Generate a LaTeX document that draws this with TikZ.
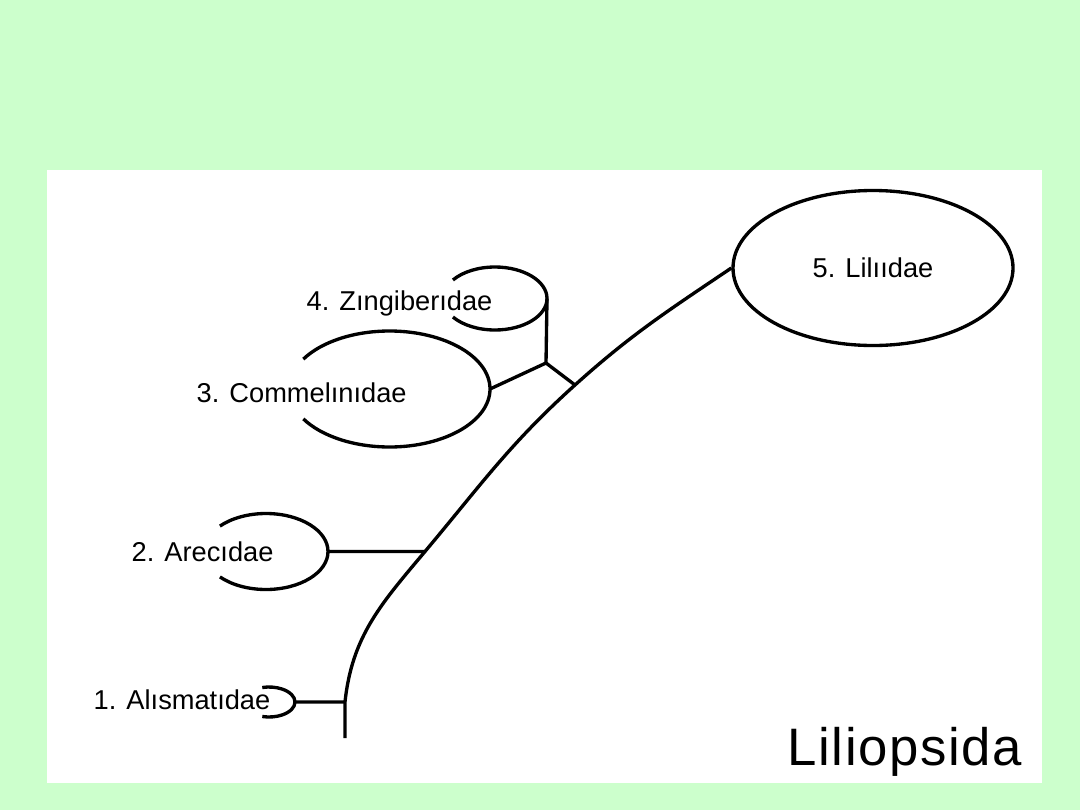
\documentclass[tikz,border=0pt]{standalone}
\usepackage{fontspec}
\setmainfont{Liberation Sans}
\usetikzlibrary{shapes.geometric}
\definecolor{bggreen}{RGB}{204,255,204}
\tikzset{lab/.style={font=\fontsize{15.5}{18}\selectfont,inner sep=0pt,anchor=base west}}

\begin{document}
\begin{tikzpicture}[x=.2cm,y=.2cm,line width=1.9pt]
\fill[bggreen] (0,0) rectangle (108,81);
\fill[white] (4.7,2.7) rectangle (104.2,64);
\node[draw,ellipse,minimum width=5.6cm,minimum height=3.1cm,inner sep=0pt,font=\fontsize{15.5}{18}\selectfont] (lil) at (87.3,54.2) {5. Lilııdae};
\node[lab] (zinlab) at (30.5,50.0) {4. Zıngiberıdae};
\node[lab] (comlab) at (19.5,40.8) {3. Commelınıdae};
\node[lab] (arelab) at (13.0,24.9) {2. Arecıdae};
\node[lab] (alilab) at (9.2,10.1) {1. Alısmatıdae};
\node[lab,font=\fontsize{30}{34}\selectfont\addfontfeature{LetterSpace=3}] (cls) at (78.6,4.5) {Liliopsida};
\coordinate (base) at (34.5,7.2);
\coordinate (j1) at (34.5,10.8);
\coordinate (j2) at (42.5,25.85);
\coordinate (j3) at (57.5,42.5);
\coordinate (fork) at (54.6,44.7);
\coordinate (ali) at (29.5,10.8);
\coordinate (are) at (32.8,25.85);
\coordinate (com) at (49.0,42.1);
\coordinate (zin) at (54.7,51.15);
% open subclass outlines
\foreach \t/\rx/\ry/\a in {ali/2.6/1.5/105, are/6.2/3.8/138, com/10.05/5.8/149, zin/5.2/3.15/144}
  \draw (\t) arc[start angle=0,end angle=\a,x radius=\rx,y radius=\ry]
        (\t) arc[start angle=0,end angle=-\a,x radius=\rx,y radius=\ry];
% main stem
\draw (base)--(j1) to[out=84,in=230] (j2) to[out=50,in=222] (j3) to[out=42,in=214] (lil.west);
\draw (ali)--(j1) (are)--(j2) (com)--(fork)--(j3) (zin)--(fork);
\end{tikzpicture}
\end{document}
